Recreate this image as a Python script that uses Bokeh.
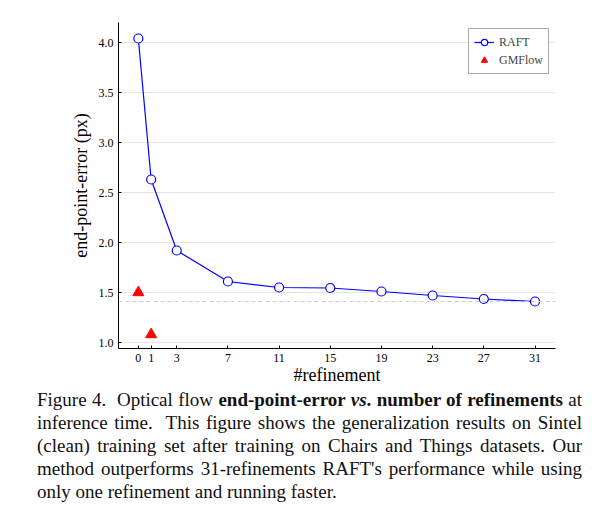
from bokeh.plotting import figure
from bokeh.models import Div, Span, FixedTicker, Legend, LegendItem, CustomJSTickFormatter
from bokeh.layouts import column
from bokeh.embed import file_html
from bokeh.resources import INLINE

refinements = [0, 1, 3, 7, 11, 15, 19, 23, 27, 31]
raft_epe = [4.04, 2.63, 1.92, 1.61, 1.55, 1.545, 1.51, 1.47, 1.435, 1.41]
gm_iters = [0, 1]
gm_epe = [1.50, 1.08]
best_raft = 1.41

SERIF = "Liberation Serif"

p = figure(width=600, height=388, x_range=(-1.55, 32.6), y_range=(0.94, 4.2),
           output_backend="svg", toolbar_location=None,
           min_border_left=118, min_border_right=45, min_border_top=22, min_border_bottom=40)
p.outline_line_color = None
p.xgrid.grid_line_color = None
p.ygrid.grid_line_color = "#e4e4e4"
p.xaxis.ticker = FixedTicker(ticks=refinements)
p.yaxis.ticker = FixedTicker(ticks=[1.0, 1.5, 2.0, 2.5, 3.0, 3.5, 4.0])
p.yaxis.formatter = CustomJSTickFormatter(code="return tick.toFixed(1)")
for ax in (p.xaxis, p.yaxis):
    ax.major_label_text_font = SERIF
    ax.major_label_text_font_size = "12px"
    ax.major_label_text_color = "black"
    ax.axis_label_text_font = SERIF
    ax.axis_label_text_font_style = "normal"
    ax.axis_label_text_font_size = "18px"
    ax.axis_label_text_color = "black"
    ax.minor_tick_line_color = None
    ax.major_tick_in = 3
    ax.major_tick_out = 0
    ax.axis_line_color = "black"
p.xaxis.axis_label = "#refinement"
p.yaxis.axis_label = "end-point-error (px)"
p.xaxis.axis_label_standoff = 0

p.add_layout(Span(location=best_raft, dimension="width", line_color="#cccccc",
                  line_dash="4 3", line_width=1))

r1 = p.line(refinements, raft_epe, line_color="blue", line_width=1.2)
r2 = p.scatter(refinements, raft_epe, marker="circle", size=9, fill_color="white",
               line_color="blue", line_width=1.2)
r3 = p.scatter(gm_iters, gm_epe, marker="triangle", size=11, fill_color="red", line_color="red")

leg = Legend(items=[LegendItem(label="RAFT", renderers=[r1, r2]),
                    LegendItem(label="GMFlow", renderers=[r3])],
             location="top_right", label_text_font=SERIF, label_text_font_size="12px",
             border_line_color="#555555", border_line_width=1.5, spacing=2,
             padding=5, margin=6, glyph_height=16, label_height=16)
p.add_layout(leg)

caption = Div(width=545, styles={"margin-left": "37px", "margin-top": "0px"}, text=(
    "<div lang='en' style='font-family:\"Liberation Serif\";font-size:19px;line-height:23px;"
    "text-align:justify;hyphens:auto;color:#111'>Figure 4.&nbsp; Optical flow <b>end-point-error <i>vs</i>. number of "
    "refine&shy;ments</b> at inference time.&nbsp; This figure shows the generalization "
    "results on Sintel (clean) training set after training on Chairs and Things datasets. "
    "Our method outperforms 31-refinements RAFT's performance while using only one "
    "refinement and running faster.</div>"))

layout = column(p, caption)
open("out.html", "w").write(file_html(layout, INLINE))
